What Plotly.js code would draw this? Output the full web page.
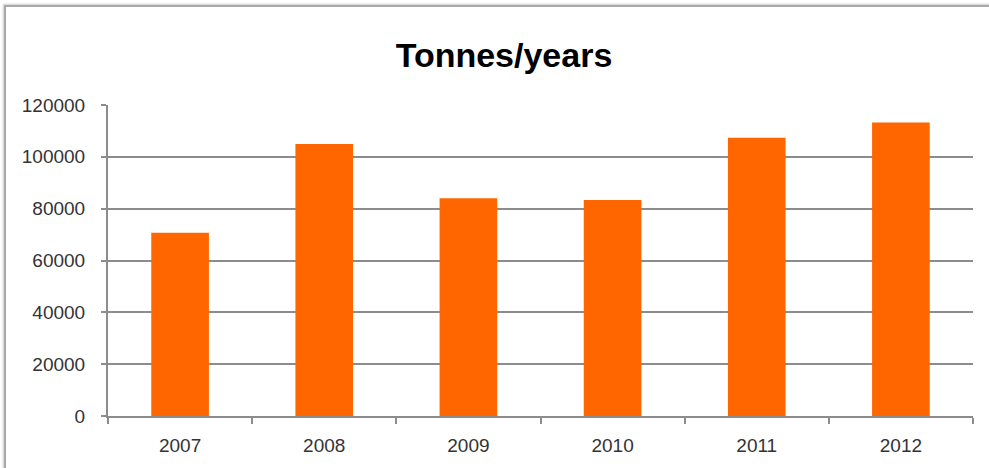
<!DOCTYPE html>
<html>
<head>
<meta charset="utf-8">
<script src="https://cdn.plot.ly/plotly-3.0.1.min.js"></script>
<style>
  html, body { margin: 0; padding: 0; background: #fff; overflow: hidden; }
  #frame { position: absolute; left: 4px; top: 5px; width: 1200px; height: 800px;
           border-left: 2px solid #a8a8a8; border-top: 2px solid #a8a8a8; box-shadow: -1px -1px 2px #ccc; }
  #chart { position: absolute; left: 0; top: 0; width: 989px; height: 468px; }
</style>
</head>
<body>
<div id="frame"></div>
<div id="chart"></div>
<script>
const years = ['2007', '2008', '2009', '2010', '2011', '2012'];
const tonnes = [70700, 105000, 84000, 83300, 107400, 113200];
const yTicks = [0, 20000, 40000, 60000, 80000, 100000, 120000];
const chartTitle = 'Tonnes/years';

const trace = {
  type: 'bar',
  x: years,
  y: tonnes,
  marker: { color: '#FF6600' },
  hoverinfo: 'x+y'
};

const layout = {
  width: 989,
  height: 468,
  paper_bgcolor: 'rgba(0,0,0,0)',
  plot_bgcolor: 'rgba(0,0,0,0)',
  margin: { l: 108, r: 16, t: 105, b: 52 },
  bargap: 0.6,
  showlegend: false,
  title: {
    text: '<b>' + chartTitle + '</b>',
    x: 0.5096, xanchor: 'center',
    y: 0.8825, yanchor: 'middle',
    font: { family: 'Liberation Sans, Arial, sans-serif', size: 34, color: '#000' }
  },
  xaxis: {
    type: 'category',
    showline: true, linecolor: '#8c8c8c', linewidth: 2,
    ticks: 'outside', tickson: 'boundaries', ticklen: 6, tickcolor: '#8c8c8c', tickwidth: 2,
    showgrid: false, zeroline: false,
    ticklabelstandoff: 11,
    tickfont: { family: 'Liberation Sans, Arial, sans-serif', size: 19, color: '#333' }
  },
  yaxis: {
    range: [0, 120000],
    tickvals: yTicks,
    ticktext: yTicks.map(String),
    showline: true, linecolor: '#8c8c8c', linewidth: 2,
    ticks: 'outside', ticklen: 5, tickcolor: '#8c8c8c', tickwidth: 2,
    showgrid: true, gridcolor: '#8c8c8c', gridwidth: 2,
    zeroline: false,
    ticklabelstandoff: 12,
    tickfont: { family: 'Liberation Sans, Arial, sans-serif', size: 19, color: '#333' }
  }
};

Plotly.newPlot('chart', [trace], layout, { displayModeBar: false, staticPlot: true });
</script>
</body>
</html>
